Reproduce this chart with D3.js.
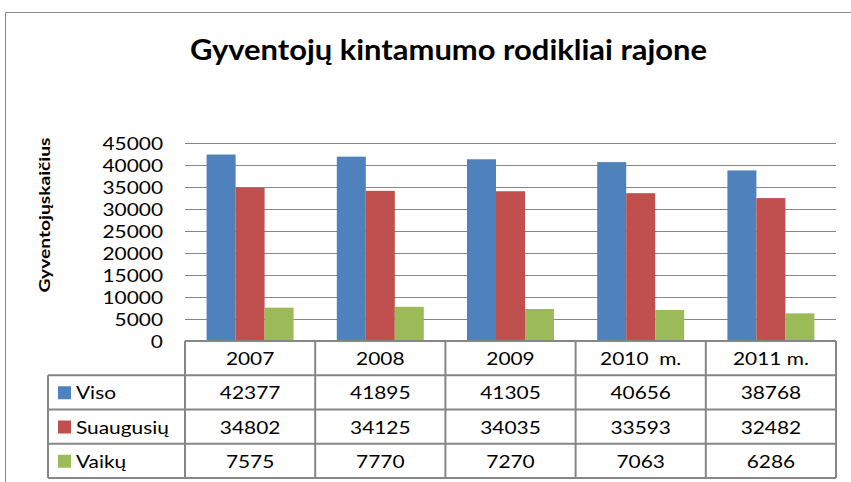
<!DOCTYPE html>
<html>
<head>
<meta charset="utf-8">
<script src="https://cdn.jsdelivr.net/npm/d3@7"></script>
<style>
  body { margin: 0; background: #fff; }
  svg text { font-family: Lato, "Open Sans", sans-serif; fill: #000; }
</style>
</head>
<body>
<svg></svg>
<script>
const width = 851;
const height = 482;

// -----------------------------
// DATA
// -----------------------------
const years = ["2007", "2008", "2009", "2010  m.", "2011 m."];
const seriesNames = ["Viso", "Suaugusių", "Vaikų"];
const viso = [42377, 41895, 41305, 40656, 38768];
const suaugusiu = [34802, 34125, 34035, 33593, 32482];
const vaiku = [7575, 7770, 7270, 7063, 6286];
const yTicks = [0, 5000, 10000, 15000, 20000, 25000, 30000, 35000, 40000, 45000];
const colors = ["#4F81BD", "#C0504D", "#9BBB59"];

const values = [viso, suaugusiu, vaiku];

const svg = d3.select("svg")
  .attr("width", width)
  .attr("height", height);

// reference font is wide: measure one digit and stretch all text so a digit is ~12px
const probe = svg.append("text").attr("font-size", 18).text("0000000000");
const k = 12.1 / (probe.node().getComputedTextLength() / 10);
probe.remove();

function stretch(sel, f) {
  sel.each(function () {
    const w = this.getComputedTextLength();
    d3.select(this)
      .attr("textLength", w * f)
      .attr("lengthAdjust", "spacingAndGlyphs");
  });
}

// -----------------------------
// FRAME
// -----------------------------
svg.append("path")
  .attr("d", `M5.5,${height} V12.5 H${width}`)
  .attr("fill", "none")
  .attr("stroke", "#868686")
  .attr("stroke-width", 1);

// -----------------------------
// TITLE
// -----------------------------
svg.append("text")
  .attr("x", 190)
  .attr("y", 60)
  .attr("font-size", 28)
  .attr("font-weight", "bold")
  .attr("textLength", 517)
  .attr("lengthAdjust", "spacingAndGlyphs")
  .text("Gyventojų kintamumo rodikliai rajone");

// -----------------------------
// SCALES
// -----------------------------
const plotLeft = 185, plotRight = 836, plotTop = 143, plotBottom = 341;

const x = d3.scaleBand()
  .domain(years)
  .range([plotLeft, plotRight]);

const xInner = d3.scaleBand()
  .domain(seriesNames)
  .range([0, x.bandwidth()])
  .paddingOuter(0.745)
  .paddingInner(0);

const y = d3.scaleLinear()
  .domain([0, 45000])
  .range([plotBottom, plotTop]);

// -----------------------------
// GRID + Y AXIS
// -----------------------------
svg.append("g")
  .selectAll("line")
  .data(yTicks.slice(1))
  .join("line")
  .attr("x1", plotLeft)
  .attr("x2", plotRight)
  .attr("y1", d => Math.round(y(d)) + 0.5)
  .attr("y2", d => Math.round(y(d)) + 0.5)
  .attr("stroke", "#868686")
  .attr("stroke-width", 1);

const tickLabels = svg.append("g")
  .selectAll("text")
  .data(yTicks)
  .join("text")
  .attr("y", d => y(d) + 6.5)
  .attr("font-size", 18)
  .text(d => d);
stretch(tickLabels, k);
tickLabels.attr("x", function () { return 163 - +this.getAttribute("textLength"); });

svg.append("text")
  .attr("transform", "translate(50,215) rotate(-90)")
  .attr("text-anchor", "middle")
  .attr("font-size", 16)
  .attr("font-weight", "bold")
  .attr("textLength", 155)
  .attr("lengthAdjust", "spacingAndGlyphs")
  .text("Gyventojųskaičius");

// -----------------------------
// BARS
// -----------------------------
const groups = svg.append("g")
  .selectAll("g")
  .data(years)
  .join("g")
  .attr("transform", d => `translate(${x(d)},0)`);

groups.selectAll("rect")
  .data((d, i) => seriesNames.map((s, j) => ({ s, j, v: values[j][i] })))
  .join("rect")
  .attr("x", d => xInner(d.s))
  .attr("width", xInner.bandwidth())
  .attr("y", d => y(d.v))
  .attr("height", d => y(0) - y(d.v))
  .attr("fill", d => colors[d.j]);

// -----------------------------
// DATA TABLE
// -----------------------------
const tableLeft = 48;
const row = d3.scaleBand()
  .domain(["head"].concat(seriesNames))
  .range([plotBottom, 478]);

const grid = svg.append("g")
  .attr("stroke", "#868686")
  .attr("stroke-width", 2);

grid.append("line")
  .attr("x1", plotLeft).attr("x2", plotRight)
  .attr("y1", plotBottom).attr("y2", plotBottom);

grid.selectAll("line.h")
  .data(seriesNames.concat(["end"]))
  .join("line")
  .attr("class", "h")
  .attr("x1", tableLeft).attr("x2", plotRight)
  .attr("y1", (d, i) => row(seriesNames[i]) ?? 478)
  .attr("y2", (d, i) => row(seriesNames[i]) ?? 478);

grid.selectAll("line.v")
  .data(years.concat(["end"]))
  .join("line")
  .attr("class", "v")
  .attr("x1", (d, i) => x(years[i]) ?? plotRight)
  .attr("x2", (d, i) => x(years[i]) ?? plotRight)
  .attr("y1", plotBottom).attr("y2", 478);

grid.append("line")
  .attr("x1", tableLeft).attr("x2", tableLeft)
  .attr("y1", row("Viso")).attr("y2", 478);

// header
const head = svg.append("g")
  .selectAll("text")
  .data(years)
  .join("text")
  .attr("x", d => x(d) + x.bandwidth() / 2)
  .attr("y", row("head") + 24)
  .attr("text-anchor", "middle")
  .attr("font-size", 18)
  .style("white-space", "pre")
  .text(d => d);
stretch(head, k);

// legend keys + names
svg.append("g")
  .selectAll("rect")
  .data(seriesNames)
  .join("rect")
  .attr("x", 58)
  .attr("y", d => row(d) + 11)
  .attr("width", 13)
  .attr("height", 13)
  .attr("fill", (d, i) => colors[i]);

const names = svg.append("g")
  .selectAll("text")
  .data(seriesNames)
  .join("text")
  .attr("x", 76)
  .attr("y", d => row(d) + 24)
  .attr("font-size", 18)
  .text(d => d);
stretch(names, k);

// values
const cells = svg.append("g")
  .selectAll("g")
  .data(seriesNames)
  .join("g")
  .selectAll("text")
  .data((s, j) => years.map((yr, i) => ({ s, yr, v: values[j][i] })))
  .join("text")
  .attr("x", d => x(d.yr) + x.bandwidth() / 2)
  .attr("y", d => row(d.s) + 24)
  .attr("text-anchor", "middle")
  .attr("font-size", 18)
  .text(d => d.v);
stretch(cells, k);
</script>
</body>
</html>
